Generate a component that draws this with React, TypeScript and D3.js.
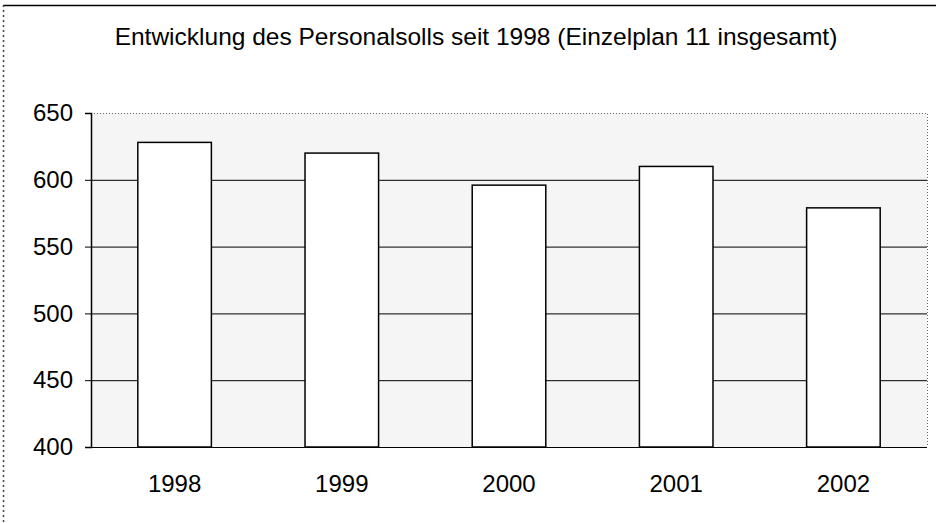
import React, { useEffect, useRef } from 'react';
import * as d3 from 'd3';

// values
const years = ['1998', '1999', '2000', '2001', '2002'];
const personalsoll = [628, 620, 596, 610, 579];
const yTicks = [400, 450, 500, 550, 600, 650];
const title = 'Entwicklung des Personalsolls seit 1998 (Einzelplan 11 insgesamt)';

const W = 936;
const H = 523;

export default function App() {
  const ref = useRef<SVGSVGElement | null>(null);

  useEffect(() => {
    if (!ref.current) return;
    const svg = d3.select(ref.current);
    svg.selectAll('*').remove();

    const font = 'Arial, "Liberation Sans", sans-serif';
    const plot = { left: 91, right: 927, top: 113, bottom: 447 };

    // outer chart frame: solid top edge, dotted left edge
    svg.append('line')
      .attr('x1', 3).attr('x2', W).attr('y1', 5.5).attr('y2', 5.5)
      .attr('stroke', '#000').attr('stroke-width', 1.5);
    svg.append('line')
      .attr('x1', 3.5).attr('x2', 3.5).attr('y1', 5).attr('y2', H)
      .attr('stroke', '#444').attr('stroke-width', 1.5)
      .attr('stroke-dasharray', '2,3');

    svg.append('text')
      .attr('x', 476).attr('y', 45)
      .attr('text-anchor', 'middle')
      .style('font-family', font)
      .style('font-size', '24.5px')
      .text(title);

    const x = d3.scaleBand<string>()
      .domain(years)
      .range([plot.left, plot.right])
      .paddingInner(0.56)
      .paddingOuter(0.28);

    const y = d3.scaleLinear()
      .domain([400, 650])
      .range([plot.bottom, plot.top]);

    // plot background
    svg.append('rect')
      .attr('x', plot.left).attr('y', plot.top)
      .attr('width', plot.right - plot.left)
      .attr('height', plot.bottom - plot.top)
      .attr('fill', '#f5f5f5');

    // gridlines
    svg.append('g')
      .selectAll('line')
      .data(yTicks.filter((t) => t < 650))
      .enter()
      .append('line')
      .attr('x1', plot.left).attr('x2', plot.right)
      .attr('y1', (d) => y(d) + 0.5).attr('y2', (d) => y(d) + 0.5)
      .attr('stroke', '#000')
      .attr('stroke-width', 1);

    // top and right border, dotted
    svg.append('path')
      .attr('d', `M${plot.left},${plot.top + 0.5}H${plot.right + 0.5}V${plot.bottom}`)
      .attr('fill', 'none')
      .attr('stroke', '#666')
      .attr('stroke-width', 1)
      .attr('stroke-dasharray', '1,2');

    // bars
    svg.append('g')
      .selectAll('rect')
      .data(personalsoll)
      .enter()
      .append('rect')
      .attr('x', (d, i) => x(years[i])!)
      .attr('y', (d) => y(d))
      .attr('width', x.bandwidth())
      .attr('height', (d) => y(400) - y(d))
      .attr('fill', '#fff')
      .attr('stroke', '#000')
      .attr('stroke-width', 1.5);

    // y axis
    const yAxis = d3.axisLeft(y)
      .tickValues(yTicks)
      .tickSize(6)
      .tickPadding(12)
      .tickFormat((d) => String(d));
    const ya = svg.append('g')
      .attr('transform', `translate(${plot.left},0)`)
      .call(yAxis);
    ya.select('.domain').attr('stroke', '#000').attr('stroke-width', 1.5);
    ya.selectAll('line').attr('stroke', '#000');
    ya.selectAll('text')
      .style('font-family', font)
      .style('font-size', '24px')
      .attr('fill', '#000');

    // x axis labels (no axis line, bottom gridline acts as baseline)
    const xa = svg.append('g')
      .attr('transform', `translate(0,${plot.bottom})`)
      .call(d3.axisBottom(x).tickSize(0).tickPadding(28));
    xa.select('.domain').remove();
    xa.selectAll('text')
      .style('font-family', font)
      .style('font-size', '24px')
      .attr('fill', '#000');
  }, []);

  return (
    <div style={{ position: 'fixed', left: 0, top: 0, width: W, height: H, background: '#fff' }}>
      <svg ref={ref} width={W} height={H} style={{ display: 'block' }} />
    </div>
  );
}
